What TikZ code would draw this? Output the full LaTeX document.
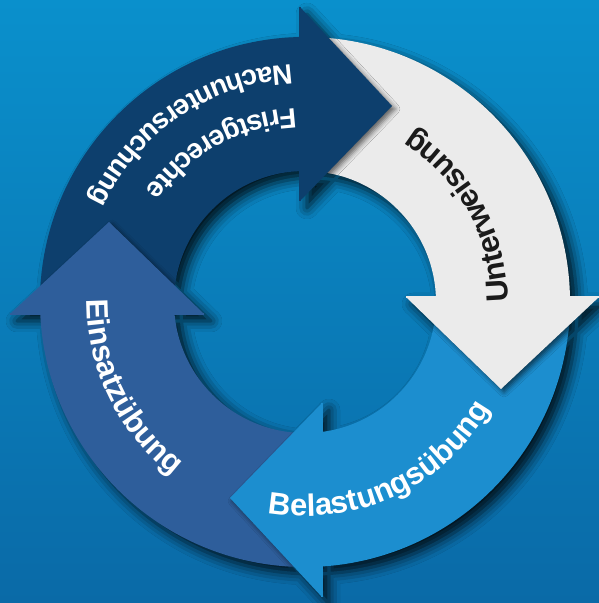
\documentclass[tikz,border=0pt]{standalone}
\usepackage{fontspec}
\setmainfont{Liberation Sans}
\usetikzlibrary{decorations.text,shadows.blur}

\definecolor{bgtop}{HTML}{0A90CC}
\definecolor{bgbot}{HTML}{0A6AA7}
\definecolor{navy}{HTML}{0D3F6D}
\definecolor{paleg}{HTML}{EBEBEB}
\definecolor{skyb}{HTML}{1C8ECF}
\definecolor{midb}{HTML}{2E5E9B}
\definecolor{inkb}{HTML}{1A1A1A}

\newcommand\labelfont{\fontsize{31}{31}\selectfont\bfseries}
\newcommand\twolinefont{\fontsize{28}{28}\selectfont\bfseries}

\tikzset{
  ringshadow/.style={blur shadow={shadow xshift=7pt, shadow yshift=-7pt,
      shadow blur radius=11pt, shadow opacity=85}},
  headshadow/.style={blur shadow={shadow xshift=3pt, shadow yshift=-3pt,
      shadow blur radius=5pt, shadow opacity=60}},
  arclabel/.style 2 args={decorate, decoration={text along path,
      text align=center, text color=#1, text={#2}}}
}

\begin{document}
\begin{tikzpicture}[x=1pt,y=1pt]
  % background
  \shade[top color=bgtop, bottom color=bgbot] (0,0) rectangle (599,603);
  \useasboundingbox (0,0) rectangle (599,603);

  \coordinate (C) at (305,301);
  % arrow heads: base corners and tip
  \coordinate (nb1) at (300,402); \coordinate (nt) at (392,497); \coordinate (nb2) at (300,596);
  \coordinate (wb1) at (406,306); \coordinate (wt) at (501,214); \coordinate (wb2) at (599,306);
  \coordinate (sb1) at (322,200); \coordinate (st) at (230,105); \coordinate (sb2) at (322,6);
  \coordinate (mb1) at (204,289); \coordinate (mt) at (109,381); \coordinate (mb2) at (10,289);

  % shadow of the whole ring
  \path[ringshadow]
    (C) ++(265,0) arc[start angle=0, end angle=360, radius=265]
    (C) ++(131,0) arc[start angle=0, end angle=-360, radius=131]
    (nb1) -- (nt) -- (nb2) -- cycle
    (wb1) -- (wt) -- (wb2) -- cycle
    (sb1) -- (st) -- (sb2) -- cycle
    (mb1) -- (mt) -- (mb2) -- cycle;

  % ring parts, one quadrant each
  \foreach \col/\qa/\qb in {navy/{-50,289}/{300,700}, paleg/{300,306}/{650,700},
                            skyb/{322,306}/{650,-50}, midb/{-50,-50}/{322,289}}{
    \begin{scope}
      \clip (\qa) rectangle (\qb);
      \fill[\col, even odd rule] (C) circle[radius=265] (C) circle[radius=131];
    \end{scope}
  }

  % heads, each throws its shadow on the next part
  \foreach \h/\col/\qa/\qb in {n/navy/{300,306}/{650,700}, w/paleg/{322,306}/{650,-50},
                               s/skyb/{-50,-50}/{322,289}, m/midb/{-50,289}/{300,700}}{
    \begin{scope}
      \clip (\qa) rectangle (\qb);
      \clip (C) ++(265,0) arc[start angle=0, end angle=360, radius=265]
            (C) ++(131,0) arc[start angle=0, end angle=-360, radius=131];
      \path[headshadow] (\h b1) -- (\h t) -- (\h b2) -- cycle;
    \end{scope}
    \fill[\col] (\h b1) -- (\h t) -- (\h b2) -- cycle;
    \draw[\col, line width=2pt] (\h b1) -- (\h b2);
  }

  % labels along the ring
  \path[arclabel={white}{|\twolinefont|Fristgerechte}]
    (C) ++(59:194) arc[start angle=59, end angle=179, radius=194];
  \path[arclabel={white}{|\twolinefont|Nachuntersuchung}]
    (C) ++(64:238) arc[start angle=64, end angle=184, radius=238];
  \path[arclabel={inkb}{|\labelfont|Unterweisung}]
    (C) ++(-31:203) arc[start angle=-31, end angle=89, radius=203];
  \path[arclabel={white}{|\labelfont|Belastungsübung}]
    (C) ++(235:214) arc[start angle=235, end angle=355, radius=214];
  \path[arclabel={white}{|\labelfont|Einsatzübung}]
    (C) ++(146:218) arc[start angle=146, end angle=266, radius=218];
\end{tikzpicture}
\end{document}
